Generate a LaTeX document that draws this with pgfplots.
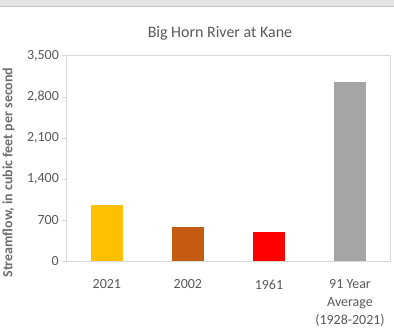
\documentclass[border=0pt]{standalone}
\usepackage{pgfplots}
\pgfplotsset{compat=1.18}
\usepackage{fontspec}
\setmainfont{Carlito}
\definecolor{txt}{HTML}{595959}
\definecolor{lbl}{HTML}{6E6E6E}
\definecolor{grid}{HTML}{D9D9D9}
\definecolor{c1}{HTML}{FFC000}
\definecolor{c2}{HTML}{C55A11}
\definecolor{c3}{HTML}{FF0000}
\definecolor{c4}{HTML}{A5A5A5}
\begin{document}
\begin{tikzpicture}[x=1pt,y=1pt]
\fill[white] (0,0) rectangle (394,331);
\fill[grid!70] (0,325) rectangle (394,331);
\draw[grid!80!gray, line width=1pt] (0,324.5) -- (394,324.5);
\useasboundingbox (0,0) rectangle (394,331);
\node[txt, font=\fontsize{16}{18}\selectfont] at (220,298) {Big Horn River at Kane};
\node[lbl, rotate=90, font=\bfseries\fontsize{14}{16}\selectfont] at (8,158) {Streamflow, in cubic feet per second};
\begin{axis}[
  at={(66pt,69pt)}, anchor=south west,
  scale only axis, width=325pt, height=206pt,
  xmin=-0.5, xmax=3.5, ymin=0, ymax=3500,
  ytick={0,700,1400,2100,2800,3500},
  xtick={0,1,2,3},
  xticklabels={2021,2002,1961,{91 Year\\Average\\(1928-2021)}},
  x tick label style={align=center, text=txt, font=\fontsize{14}{18}\selectfont, yshift=-11pt},
  y tick label style={text=txt, font=\fontsize{14}{16}\selectfont},
  /pgf/number format/1000 sep={,},
  /pgf/number format/assume math mode=true,
  axis line style={grid, line width=0.8pt},
  major tick length=4pt,
  xtick style={draw=none},
  ytick style={grid, line width=0.8pt},
  tick align=outside,
  ytick pos=left,
  clip=false,
]
\addplot[ybar, bar width=32pt, fill=c1, draw=none] coordinates {(0,968)};
\addplot[ybar, bar width=32pt, fill=c2, draw=none] coordinates {(1,590)};
\addplot[ybar, bar width=32pt, fill=c3, draw=none] coordinates {(2,498)};
\addplot[ybar, bar width=32pt, fill=c4, draw=none] coordinates {(3,3063)};
\end{axis}
\end{tikzpicture}
\end{document}
